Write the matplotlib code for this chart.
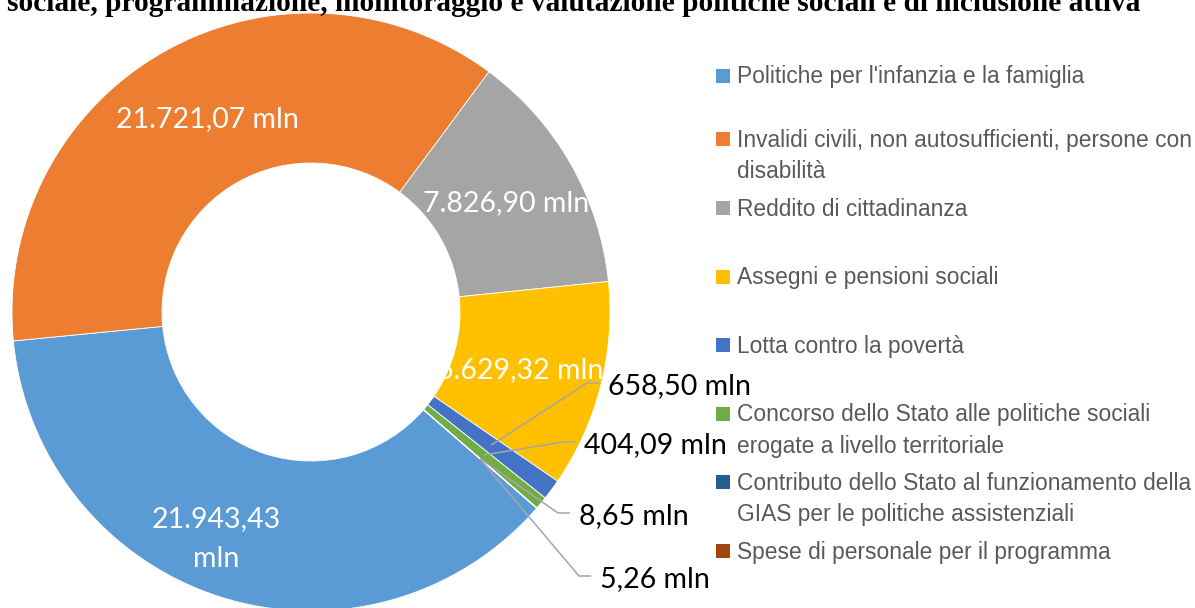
import numpy as np
import matplotlib
matplotlib.use("Agg")
import matplotlib.pyplot as plt
from matplotlib.patches import Rectangle

# ---------------- data ----------------
categories = [
    "Politiche per l'infanzia e la famiglia",
    "Invalidi civili, non autosufficienti, persone con\ndisabilità",
    "Reddito di cittadinanza",
    "Assegni e pensioni sociali",
    "Lotta contro la povertà",
    "Concorso dello Stato alle politiche sociali\nerogate a livello territoriale",
    "Contributo dello Stato al funzionamento della\nGIAS per le politiche assistenziali",
    "Spese di personale per il programma",
]
values = [21943.43, 21721.07, 7826.90, 6629.32, 658.50, 404.09, 8.65, 5.26]
value_labels = ["21.943,43\nmln", "21.721,07 mln", "7.826,90 mln", "6.629,32 mln",
                "658,50 mln", "404,09 mln", "8,65 mln", "5,26 mln"]
colors = ["#5B9BD5", "#ED7D31", "#A5A5A5", "#FFC000",
          "#4472C4", "#70AD47", "#255E91", "#9E480E"]
title = "sociale, programmazione, monitoraggio e valutazione politiche sociali e di inclusione attiva"

# ---------------- layout ----------------
W, H = 1195, 608
fig = plt.figure(figsize=(W / 100, H / 100), dpi=100)
ax = fig.add_axes([0, 0, 1, 1])

def Y(y_down):
    return H - y_down

CX, CY = 311, Y(312)
R_OUT, RING = 299, 150

wedges, _ = ax.pie(values, colors=colors, radius=R_OUT, center=(CX, CY),
                   startangle=90 - 131, counterclock=False,
                   wedgeprops=dict(width=RING, edgecolor="white", linewidth=0.6))
ax.set_xlim(0, W)
ax.set_ylim(0, H)
ax.set_aspect("equal")
ax.axis("off")

r_mid = R_OUT - RING / 2
def mid_point(w, r=r_mid):
    a = np.deg2rad((w.theta1 + w.theta2) / 2)
    return CX + r * np.cos(a), CY + r * np.sin(a)

def lines_text(x, y_base, text, step, **kw):
    """Draw (possibly multi-line) text, first baseline at y_base (y-up coords)."""
    for k, line in enumerate(text.split("\n")):
        ax.text(x, y_base - k * step, line, va="baseline", **kw)

lab_font = "Lato"
lab_size = 20.5
cap_off = 10  # baseline offset below visual centre (px)

# inside (white) labels
inside = [0, 1, 2, 3]
shift = {0: (-27, 8), 1: (7, 0), 2: (0, 0), 3: (-8, -1)}
for i in inside:
    x, y = mid_point(wedges[i])
    dx, dy = shift[i]
    lines_text(x + dx, y + dy - cap_off, value_labels[i], 40, color="white",
               fontfamily=lab_font, fontsize=lab_size, ha="center", zorder=5)

# outside labels with leader lines (text left x, centre y in pixels)
outside_pos = {4: (608, 384), 5: (584, 443), 6: (579, 514), 7: (600, 577)}
for i, (tx, ty) in outside_pos.items():
    ax_, ay_ = mid_point(wedges[i])
    ly = Y(ty - 1)
    ax.plot([ax_, tx - 21, tx - 9], [ay_, ly, ly], color="#A6A6A6", lw=1.1,
            solid_capstyle="butt", zorder=6)
    ax.text(tx, Y(ty) - cap_off, value_labels[i], color="black",
            fontfamily=lab_font, fontsize=lab_size, ha="left", va="baseline", zorder=7)

# legend (manual, Excel-like slots)
leg_centres = [76, 139.3, 208, 276.5, 345, 413.7, 482, 551]
for lab, col, yc in zip(categories, colors, leg_centres):
    ax.add_patch(Rectangle((716.5, Y(yc + 7)), 14, 14, facecolor=col,
                           edgecolor="none", zorder=5))
    lines_text(737, Y(yc + 7.5), lab, 31.6, color="#595959",
               fontfamily="Liberation Sans", fontsize=16.4, ha="left")

# title (partially cut at the top, as in the reference)
t = fig.text(7 / W, 1 - 11 / H, title, fontfamily="Liberation Serif",
             fontweight="bold", fontsize=20, ha="left", va="baseline", color="black")
fig.canvas.draw()
bb = t.get_window_extent()
t.set_fontsize(20 * 1133 / bb.width)

fig.savefig("out.png", dpi=100, facecolor="white")
